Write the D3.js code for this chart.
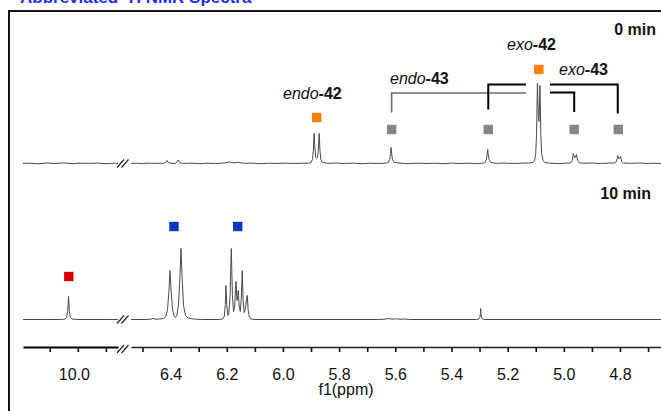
<!DOCTYPE html>
<html>
<head>
<meta charset="utf-8">
<script src="https://cdn.jsdelivr.net/npm/d3@7"></script>
<style>
    body { margin: 0; background: #fff; }
    svg { display: block; font-family: "Liberation Sans", Arial, sans-serif; }
</style>
</head>
<body>
<div id="chart"></div>
<script>
// 1H NMR spectra, 0 min and 10 min, shown with an axis break (10.2-9.85 | 6.54-4.65 ppm)

// spectrum points: [ppm, intensity]
const top0Left = [[10.195, 0], [10.17, 0.4], [10.14, -0.3], [10.11, 0.5], [10.08, 0], [10.05, 0.6], [10.02, -0.2],
    [9.99, 0.4], [9.96, 0.1], [9.93, 0.5], [9.90, -0.2], [9.87, 0.3], [9.857, 0]];

const top0Right = [[6.541, 0], [6.52, 0.3], [6.50, -0.2], [6.48, 0.4], [6.46, 0], [6.44, 0.3], [6.425, 0.2],
    [6.418, 1], [6.413, 3], [6.408, 0.8], [6.395, 0.2], [6.385, 0], [6.378, 1.2], [6.373, 3.5], [6.368, 1],
    [6.355, 0], [6.33, 0.4], [6.30, -0.2], [6.27, 0.3], [6.24, 0], [6.21, 0.5], [6.19, 1.5], [6.175, 0.6],
    [6.16, 1.2], [6.14, 0.2], [6.11, 0.4], [6.08, -0.2], [6.05, 0.3], [6.02, 0], [5.99, 0.4], [5.96, 0],
    [5.93, 0.3], [5.91, 0.3],
    [5.900, 1], [5.895, 4], [5.892, 12], [5.889, 30], [5.886, 14], [5.883, 6], [5.880, 5], [5.877, 6],
    [5.874, 14], [5.871, 30], [5.868, 12], [5.865, 4], [5.860, 1],
    [5.84, 0.2], [5.81, 0.5], [5.78, 0], [5.75, 0.4], [5.72, -0.2], [5.69, 0.3], [5.66, 0], [5.635, 0.4],
    [5.625, 1], [5.620, 4], [5.617, 10], [5.615, 16], [5.613, 10], [5.610, 4], [5.604, 1],
    [5.58, 0.3], [5.55, -0.2], [5.52, 0.4], [5.49, 0], [5.46, 0.3], [5.43, -0.2], [5.40, 0.4], [5.37, 0],
    [5.34, 0.3], [5.31, -0.1], [5.285, 0.5],
    [5.280, 1], [5.276, 4], [5.273, 9], [5.271, 14], [5.269, 9], [5.266, 4], [5.260, 1],
    [5.24, 0.2], [5.21, 0.4], [5.18, 0], [5.15, 0.4], [5.125, 0.5], [5.11, 1],
    [5.104, 3], [5.100, 10], [5.097, 30], [5.094, 80], [5.091, 50], [5.089, 42], [5.087, 52], [5.085, 78],
    [5.082, 30], [5.079, 10], [5.074, 3], [5.068, 1],
    [5.05, 0.3], [5.02, 0], [4.99, 0.4], [4.975, 0.6],
    [4.970, 3], [4.966, 10], [4.962, 6], [4.959, 6], [4.955, 9], [4.951, 3], [4.945, 0.8],
    [4.93, 0.3], [4.90, 0.5], [4.87, 0], [4.84, 0.4], [4.82, 0.5],
    [4.812, 2], [4.808, 8], [4.805, 5], [4.802, 5], [4.798, 7], [4.794, 2], [4.788, 0.5],
    [4.76, 0.2], [4.73, 0.5], [4.70, 0], [4.68, 0.3], [4.654, 0]];

const bot10Left = [[10.195, 0], [10.12, 0], [10.06, 0], [10.045, 0.5], [10.040, 2], [10.036, 8], [10.033, 23],
    [10.030, 8], [10.026, 2], [10.020, 0.5], [10.0, 0], [9.9, 0], [9.857, 0]];

const bot10Right = [[6.541, 0], [6.49, 0], [6.470, 0.3], [6.463, 1.2], [6.456, 0.3], [6.44, 0.5], [6.425, 1],
    [6.417, 3], [6.411, 10], [6.406, 28], [6.402, 49], [6.398, 28], [6.393, 10], [6.387, 3], [6.383, 2],
    [6.378, 4], [6.372, 14], [6.367, 42], [6.363, 71], [6.359, 42], [6.354, 14], [6.347, 4], [6.338, 1.5],
    [6.32, 0.5], [6.29, 0], [6.23, 0],
    [6.215, 0.5], [6.209, 3], [6.205, 15], [6.203, 34], [6.200, 15], [6.196, 4], [6.193, 5], [6.188, 25],
    [6.184, 71], [6.180, 25], [6.176, 8], [6.172, 12], [6.169, 30], [6.167, 38], [6.164, 20], [6.163, 19],
    [6.161, 24], [6.159, 29], [6.156, 14], [6.152, 8], [6.149, 18], [6.146, 40], [6.145, 49], [6.142, 20],
    [6.138, 7], [6.134, 10], [6.130, 20], [6.127, 24], [6.124, 10], [6.120, 3], [6.114, 0.5], [6.10, 0],
    [5.66, 0], [5.64, 0.3], [5.625, 0.9], [5.61, 0.4], [5.595, 0.6], [5.58, 0.2], [5.565, 0.5], [5.55, 0],
    [5.31, 0], [5.302, 0.5], [5.299, 2], [5.297, 6], [5.296, 11], [5.295, 6], [5.293, 2], [5.290, 0.5],
    [5.28, 0], [4.654, 0]];

// axis ticks
const leftTicks = [10.1, 10.0, 9.9];
const leftLabels = [10.0];
const rightTicks = [6.5, 6.4, 6.3, 6.2, 6.1, 6.0, 5.9, 5.8, 5.7, 5.6, 5.5, 5.4, 5.3, 5.2, 5.1, 5.0, 4.9, 4.8, 4.7];
const rightLabels = [6.4, 6.2, 6.0, 5.8, 5.6, 5.4, 5.2, 5.0, 4.8];

// peak markers: ppm, height above baseline (intensity units), colour key
const topMarkers = [
    { ppm: 5.880, h: 46, kind: 'orange' },
    { ppm: 5.089, h: 94, kind: 'orange' },
    { ppm: 5.613, h: 34, kind: 'gray' },
    { ppm: 5.269, h: 34, kind: 'gray' },
    { ppm: 4.963, h: 34, kind: 'gray' },
    { ppm: 4.806, h: 34, kind: 'gray' }
];
const botMarkers = [
    { ppm: 6.388, h: 93, kind: 'blue' },
    { ppm: 6.161, h: 93, kind: 'blue' }
];
const botLeftMarkers = [
    { ppm: 10.032, h: 43, kind: 'red' }
];

// brackets linking the 43 peaks (top spectrum): peak ppm, end ppm, bar level, foot level
const brackets = [
    { peak: 5.613, end: 5.135, bar: 70.5, foot: 51, dark: false },
    { peak: 5.269, end: 5.135, bar: 79, foot: 54, dark: true },
    { peak: 4.808, end: 5.049, bar: 79, foot: 50, dark: true },
    { peak: 4.963, end: 5.049, bar: 71, foot: 51.5, dark: true }
];

const markerColors = { orange: '#ff8000', gray: '#858585', blue: '#0b37c2', red: '#dc0000' };

const width = 661, height = 411;

const svg = d3.select('#chart').append('svg')
    .attr('width', width)
    .attr('height', height);

// scales: one x scale per side of the break, one y scale per spectrum
const xLeft = d3.scaleLinear().domain([10.195, 9.857]).range([23, 118]);
const xRight = d3.scaleLinear().domain([6.541, 4.654]).range([131, 661]);
const yTop = d3.scaleLinear().domain([0, 100]).range([163.5, 63.5]);
const yBot = d3.scaleLinear().domain([0, 100]).range([319.5, 219.5]);

// cropped title above the frame
svg.append('text')
    .attr('x', 20)
    .attr('y', 3)
    .style('font-size', '17px')
    .style('font-weight', 'bold')
    .style('fill', '#1f2cf0')
    .text('Abbreviated ¹H NMR Spectra');

// frame
svg.append('path')
    .attr('d', `M9,${height} V11 H${width}`)
    .style('fill', 'none')
    .style('stroke', '#111')
    .style('stroke-width', 2);

// spectra
function drawSpectrum(data, x, y) {
    const line = d3.line().x(d => x(d[0])).y(d => y(d[1]));
    svg.append('path')
        .datum(data)
        .attr('d', line)
        .style('fill', 'none')
        .style('stroke', '#4a4a4a')
        .style('stroke-width', 1)
        .style('stroke-linejoin', 'round');
}
drawSpectrum(top0Left, xLeft, yTop);
drawSpectrum(top0Right, xRight, yTop);
drawSpectrum(bot10Left, xLeft, yBot);
drawSpectrum(bot10Right, xRight, yBot);

// break marks
function breakMarks(cy) {
    [0, 4.5].forEach(off => {
        svg.append('line')
            .attr('x1', 117 + off).attr('y1', cy + 4)
            .attr('x2', 124 + off).attr('y2', cy - 4)
            .style('stroke', '#222')
            .style('stroke-width', 1.2);
    });
}
breakMarks(yTop(0));
breakMarks(yBot(0));

// axes
const axisY = 347;
const axisLeft = d3.axisBottom(xLeft)
    .tickValues(leftTicks)
    .tickSize(5)
    .tickSizeOuter(0)
    .tickFormat(d => leftLabels.includes(d) ? d.toFixed(1) : '');
const axisRight = d3.axisBottom(xRight)
    .tickValues(rightTicks)
    .tickSize(5)
    .tickSizeOuter(0)
    .tickFormat(d => rightLabels.includes(d) ? d.toFixed(1) : '');

const gLeft = svg.append('g').attr('transform', `translate(0,${axisY})`).call(axisLeft);
const gRight = svg.append('g').attr('transform', `translate(0,${axisY})`).call(axisRight);

gLeft.select('.domain').style('stroke', '#000').style('stroke-width', 2.2);
gRight.select('.domain').style('stroke', '#222').style('stroke-width', 1.4);
[gLeft, gRight].forEach(g => {
    g.selectAll('.tick line').style('stroke', '#111').style('stroke-width', 1.6);
    g.selectAll('.tick text')
        .attr('y', 32.5)
        .attr('dy', 0)
        .style('font-size', '16px')
        .style('font-family', '"Liberation Sans", Arial, sans-serif')
        .style('fill', '#111');
});
gLeft.selectAll('.tick text').attr('x', -4);
breakMarks(axisY + 2);

svg.append('text')
    .attr('x', 346)
    .attr('y', 395)
    .attr('text-anchor', 'middle')
    .style('font-size', '16px')
    .style('fill', '#111')
    .text('f1(ppm)');

// brackets
brackets.forEach(b => {
    svg.append('path')
        .attr('d', `M${xRight(b.peak)},${yTop(b.foot)} V${yTop(b.bar)} H${xRight(b.end)}`)
        .style('fill', 'none')
        .style('stroke', b.dark ? '#000' : '#6e6e6e')
        .style('stroke-width', b.dark ? 2 : 1.6);
});

// markers
function drawMarkers(list, x, y) {
    svg.selectAll(null)
        .data(list)
        .enter()
        .append('rect')
        .attr('x', d => x(d.ppm) - 4.7)
        .attr('y', d => y(d.h) - 4.7)
        .attr('width', 9.4)
        .attr('height', 9.4)
        .style('fill', d => markerColors[d.kind]);
}
drawMarkers(topMarkers, xRight, yTop);
drawMarkers(botMarkers, xRight, yBot);
drawMarkers(botLeftMarkers, xLeft, yBot);

// compound labels: italic prefix + bold number
function label(xPos, yPos, prefix, num) {
    const t = svg.append('text')
        .attr('x', xPos)
        .attr('y', yPos)
        .style('font-size', '16px')
        .style('fill', '#111');
    t.append('tspan').style('font-style', 'italic').text(prefix);
    t.append('tspan').style('font-weight', 'bold').text('-' + num);
}
label(283, 98.5, 'endo', '42');
label(390, 83.5, 'endo', '43');
label(507, 50, 'exo', '42');
label(559, 75, 'exo', '43');

// time labels
svg.append('text')
    .attr('x', 656).attr('y', 34.5)
    .attr('text-anchor', 'end')
    .style('font-size', '16px')
    .style('font-weight', 'bold')
    .style('fill', '#111')
    .text('0 min');
svg.append('text')
    .attr('x', 651).attr('y', 198.5)
    .attr('text-anchor', 'end')
    .style('font-size', '16px')
    .style('font-weight', 'bold')
    .style('fill', '#111')
    .text('10 min');
</script>
</body>
</html>
